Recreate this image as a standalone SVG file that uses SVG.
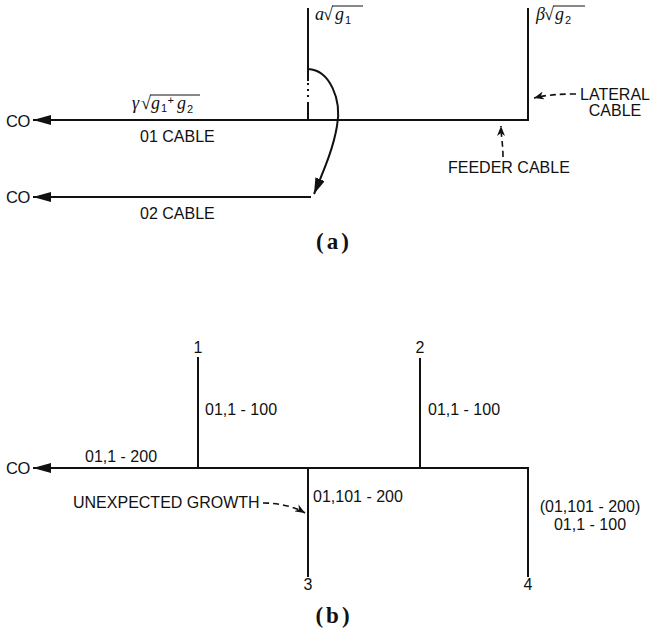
<svg xmlns="http://www.w3.org/2000/svg" width="656" height="637" viewBox="0 0 656 637">
<style>
.ln{stroke:#111;stroke-width:2;fill:none}
.dash{stroke:#111;stroke-width:1.6;fill:none;stroke-dasharray:6,4}
.t{font-family:"Liberation Sans",Arial,sans-serif;font-size:16px;fill:#111}
.co{font-family:"Liberation Sans",Arial,sans-serif;font-size:16.5px;fill:#111;letter-spacing:-0.5px}
.m{font-family:"Liberation Serif","Times New Roman",serif;font-size:18px;font-style:italic;fill:#111}
.r{font-style:normal}
.s{font-family:"Liberation Sans",Arial,sans-serif;font-size:11px;font-style:normal}
.ov{stroke:#111;stroke-width:1}
.cap{font-family:"Liberation Serif","Times New Roman",serif;font-size:23px;font-weight:bold;fill:#111;letter-spacing:3px}
</style>
<defs>
<marker id="big" viewBox="0 0 18 10" refX="0" refY="5" markerWidth="18" markerHeight="10" markerUnits="userSpaceOnUse" orient="auto">
<path d="M18,0 L0,5 L18,10 Z" fill="#111"/>
</marker>
<marker id="cur" viewBox="0 0 16 10" refX="16" refY="5" markerWidth="16" markerHeight="10" markerUnits="userSpaceOnUse" orient="auto">
<path d="M0,0 L16,5 L0,10 Z" fill="#111"/>
</marker>
<marker id="sm" viewBox="0 0 10 8" refX="10" refY="4" markerWidth="10" markerHeight="8" markerUnits="userSpaceOnUse" orient="auto">
<path d="M0,0 L10,4 L0,8 L3,4 Z" fill="#111"/>
</marker>
</defs>

<g id="connectors">
<!-- (a) -->
<line class="ln" x1="33" y1="120" x2="529" y2="120" marker-start="url(#big)"/>
<line class="ln" x1="33" y1="197" x2="311" y2="197" marker-start="url(#big)"/>
<line class="ln" x1="308" y1="8" x2="308" y2="81"/>
<line class="ln" x1="308" y1="83" x2="308" y2="99" style="stroke-dasharray:2,4"/>
<line class="ln" x1="308" y1="102" x2="308" y2="121"/>
<line class="ln" x1="528" y1="8" x2="528" y2="121"/>
<path class="ln" d="M308,69 C330,70 342,100 337,126 C333,150 323,172 314,194" marker-end="url(#cur)"/>
<path class="dash" d="M576,94 C560,94 545,95 534,98" marker-end="url(#sm)"/>
<path class="dash" d="M503,157 C503,145 501,135 501,126" marker-end="url(#sm)"/>
<!-- (b) -->
<line class="ln" x1="33" y1="468" x2="529" y2="468" marker-start="url(#big)"/>
<line class="ln" x1="198" y1="357" x2="198" y2="468"/>
<line class="ln" x1="420" y1="358" x2="420" y2="468"/>
<line class="ln" x1="308" y1="467" x2="308" y2="577"/>
<line class="ln" x1="528" y1="467" x2="528" y2="577"/>
<path class="dash" d="M263,503 C280,503 295,507 305,513" marker-end="url(#sm)"/>
</g>

<g id="part-a">
<text class="co" x="6" y="127">CO</text>
<text class="co" x="6" y="203">CO</text>
<g id="label-gamma">
<text class="m" y="109"><tspan x="132">γ</tspan><tspan class="r" x="141">√</tspan><tspan x="151">g</tspan><tspan class="s" x="161" y="112">1</tspan><tspan class="s" x="167.5" y="104" font-size="14">+</tspan><tspan x="177" y="109">g</tspan><tspan class="s" x="187" y="113">2</tspan></text>
<line class="ov" x1="150" y1="95" x2="200" y2="95"/>
</g>
<text class="t" x="140" y="141.5">01 CABLE</text>
<text class="t" x="140" y="218.5">02 CABLE</text>
<g id="label-alpha">
<text class="m" y="20"><tspan x="315">a</tspan><tspan class="r" x="323">√</tspan><tspan x="335">g</tspan><tspan class="s" x="345" y="24">1</tspan></text>
<line class="ov" x1="332" y1="6" x2="363" y2="6"/>
</g>
<g id="label-beta">
<text class="m" y="20"><tspan x="536">β</tspan><tspan class="r" x="544">√</tspan><tspan x="555">g</tspan><tspan class="s" x="565" y="24">2</tspan></text>
<line class="ov" x1="553" y1="6" x2="585" y2="6"/>
</g>
<text class="t" x="615" y="100" text-anchor="middle">LATERAL</text>
<text class="t" x="615" y="115.5" text-anchor="middle">CABLE</text>
<text class="t" x="448" y="173">FEEDER CABLE</text>
<text class="cap" x="334" y="249" text-anchor="middle">(a)</text>
</g>

<g id="part-b">
<text class="co" x="6" y="474">CO</text>
<g id="node-1"><text class="t" x="198" y="353" text-anchor="middle">1</text></g>
<g id="node-2"><text class="t" x="420" y="353" text-anchor="middle">2</text></g>
<g id="node-3"><text class="t" x="308" y="590" text-anchor="middle">3</text></g>
<g id="node-4"><text class="t" x="528" y="590" text-anchor="middle">4</text></g>
<text class="t" x="85" y="462">01,1 - 200</text>
<text class="t" x="205" y="415">01,1 - 100</text>
<text class="t" x="428" y="415">01,1 - 100</text>
<text class="t" x="313" y="502">01,101 - 200</text>
<text class="t" x="590" y="512" text-anchor="middle">(01,101 - 200)</text>
<text class="t" x="590" y="530" text-anchor="middle">01,1 - 100</text>
<text class="t" x="73" y="508">UNEXPECTED GROWTH</text>
<text class="cap" x="334" y="623" text-anchor="middle">(b)</text>
</g>
</svg>
